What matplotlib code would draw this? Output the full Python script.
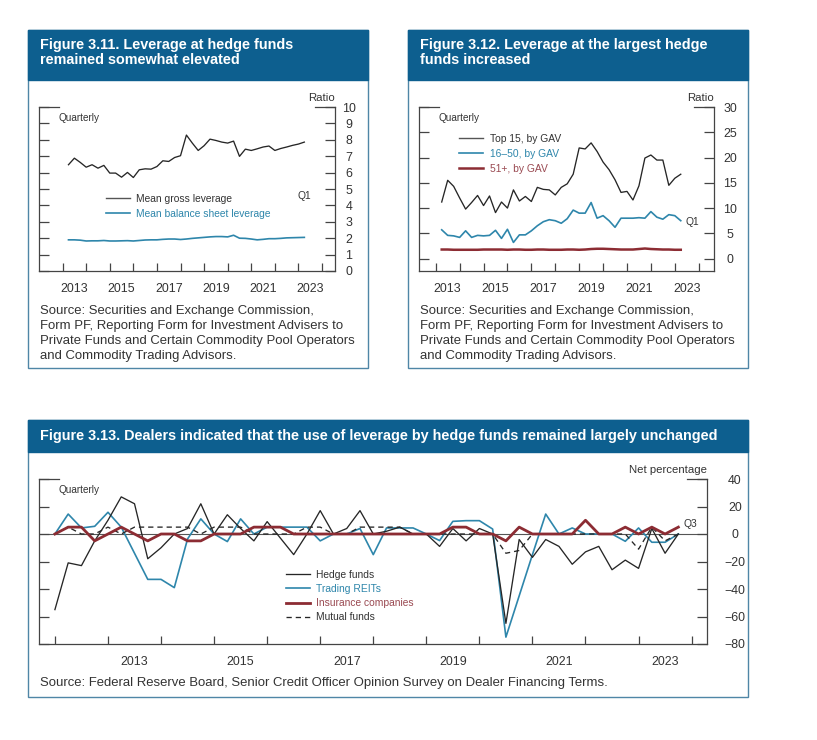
import matplotlib
matplotlib.use('Agg')
import matplotlib.pyplot as plt
import numpy as np
import pandas as pd
from matplotlib.patches import Rectangle
from matplotlib.lines import Line2D

plt.rcParams['font.family'] = ['Liberation Sans', 'DejaVu Sans']

W, H = 817, 740

# ---------------- data ----------------
quarters_311 = pd.period_range('2013Q1', '2023Q1', freq='Q')
gross_leverage = [6.48, 6.88, 6.62, 6.33, 6.48, 6.27, 6.44, 5.97, 5.97, 5.72,
                  6.01, 5.70, 6.17, 6.23, 6.21, 6.37, 6.72, 6.68, 6.92, 7.03,
                  8.29, 7.80, 7.35, 7.64, 8.04, 7.96, 7.86, 7.80, 7.92, 6.99,
                  7.43, 7.35, 7.45, 7.56, 7.62, 7.35, 7.47, 7.56, 7.66, 7.74, 7.86]
balance_sheet_leverage = [1.90, 1.90, 1.88, 1.83, 1.84, 1.84, 1.86, 1.83, 1.83, 1.84,
                          1.85, 1.83, 1.86, 1.89, 1.90, 1.90, 1.93, 1.95, 1.95, 1.92,
                          1.95, 1.99, 2.02, 2.05, 2.08, 2.10, 2.10, 2.08, 2.18, 2.00,
                          1.99, 1.95, 1.90, 1.93, 1.97, 1.97, 1.99, 2.02, 2.03, 2.04, 2.05]

quarters_312 = pd.period_range('2013Q1', '2023Q1', freq='Q')
top15_gav = [11.2, 15.5, 14.3, 12.0, 9.8, 11.1, 12.5, 10.5, 12.4, 9.1,
             11.2, 10.0, 13.6, 11.4, 12.3, 11.3, 14.1, 13.7, 13.6, 12.6,
             14.1, 14.8, 16.7, 21.9, 21.7, 22.9, 21.2, 19.1, 17.6, 15.6,
             13.1, 13.3, 11.6, 14.4, 19.9, 20.5, 19.5, 19.5, 14.5, 15.9, 16.7]
gav_16_50 = [5.7, 4.6, 4.5, 4.2, 5.5, 4.2, 4.6, 4.5, 4.6, 5.6,
             4.0, 5.8, 3.2, 4.7, 4.7, 5.5, 6.5, 7.3, 7.7, 7.5,
             7.0, 7.9, 9.6, 9.0, 9.0, 11.1, 8.0, 8.5, 7.5, 6.2,
             8.0, 8.0, 8.0, 8.1, 8.0, 9.3, 8.2, 7.8, 8.7, 8.5, 7.5]
gav_51_plus = [1.8, 1.8, 1.75, 1.75, 1.75, 1.75, 1.75, 1.8, 1.8, 1.8,
               1.8, 1.75, 1.8, 1.8, 1.75, 1.75, 1.8, 1.8, 1.75, 1.75,
               1.75, 1.8, 1.8, 1.75, 1.8, 1.9, 1.95, 1.95, 1.9, 1.85,
               1.8, 1.8, 1.8, 1.9, 2.0, 1.9, 1.85, 1.8, 1.8, 1.75, 1.75]

quarters_313 = pd.period_range('2011Q4', '2023Q3', freq='Q')
hedge_funds = [-55, -21, -23, -5, 10, 27, 22, -18, -10, 0, 4, 22,
               0, 14, 4, -5, 9, -3, -15, 0, 17, 0, 4, 17,
               0, 2, 5, 0, 0, -9, 4, -5, 4, 0, -65, -4,
               -17, -4, -9, -22, -13, -9, -26, -19, -25, 4, -14, 0]
trading_reits = [0, 14.5, 4.4, 5.6, 15.8, 5, -14, -33, -33, -39, -3.6, 11,
                 0, -5.5, 11, 0, 5, 5, 5, 5, -5, 0, 0, 4,
                 -15, 4.4, 4.4, 4.4, 0, -4.8, 9.2, 9.7, 9.7, 3.6, -75, -45,
                 -15, 14.5, 0, 4.4, 0, 0, 0, -5.3, 4.4, -6, -6, 0]
insurance_companies = [0, 5, 5, -5, 0, 5, 0, -5, 0, 0, -5, -5,
                       0, 0, 0, 5, 5, 5, 0, 0, 0, 0, 0, 0,
                       0, 0, 0, 0, 0, 0, 5, 5, 0, 0, -5, 5,
                       0, 0, 0, 0, 10, 0, 0, 5, 0, 5, 0, 5]
mutual_funds = [0, 5, 0, 0, 5, 0, 5, 5, 5, 5, 5, 0,
                5, 5, 5, 0, 0, 0, 0, 5, 5, 0, 0, 5,
                5, 5, 5, 0, 0, 0, 0, 0, 0, 0, -14, -12,
                0, 0, 0, 0, 0, 0, 0, 0, -11, 5, -5, 0]

year_labels_a = ['2013', '2015', '2017', '2019', '2021', '2023']

# ---------------- style ----------------
HEADER = '#0d5f8f'
BORDER = '#4f86a6'
TXT = '#333333'
BLACK = '#262626'
BLUE = '#2e86ab'
RED = '#8c2c33'
RED_TXT = '#9a4a52'

TICK_FS = 8.9
TITLE_FS = 10.4
SRC_FS = 9.45


def qx(periods):
    return np.asarray(periods.year + periods.quarter / 4.0, dtype=float)


def fx(px):
    return px / W


def fy(py):
    return 1 - py / H


fig = plt.figure(figsize=(W / 100, H / 100), dpi=100)
fig.patch.set_facecolor('white')


def panel_box(x0, y0, x1, y1, header_bottom, title, title_y):
    fig.add_artist(Rectangle((fx(x0), fy(y1)), fx(x1) - fx(x0), fy(y0) - fy(y1),
                             transform=fig.transFigure, facecolor='white',
                             edgecolor=BORDER, linewidth=1.0, zorder=0))
    fig.add_artist(Rectangle((fx(x0), fy(header_bottom)), fx(x1) - fx(x0),
                             fy(y0) - fy(header_bottom), transform=fig.transFigure,
                             facecolor=HEADER, edgecolor=HEADER, linewidth=1.0, zorder=0.5))
    fig.text(fx(x0 + 12), fy(title_y), title, color='white', fontsize=TITLE_FS,
             fontweight='bold', va='center', ha='left', linespacing=1.1)


def make_axes(x0, y0, x1, y1):
    ax = fig.add_axes([fx(x0), fy(y1), fx(x1) - fx(x0), fy(y0) - fy(y1)])
    ax.set_facecolor('none')
    for s in ['left', 'right', 'bottom']:
        ax.spines[s].set_color('#444444')
        ax.spines[s].set_linewidth(0.9)
    ax.spines['top'].set_visible(False)
    seg = 20.0 / (x1 - x0)
    ax.plot([0, seg], [1, 1], transform=ax.transAxes, color='#444444', lw=0.9, clip_on=False)
    ax.plot([1 - seg, 1], [1, 1], transform=ax.transAxes, color='#444444', lw=0.9, clip_on=False)
    return ax


def style_axes(ax, yticks, ylabels, xticks, xlabels_pos, xlabels, ypad, xpad):
    ax.set_yticks(yticks)
    ax.set_yticklabels(ylabels)
    ax.tick_params(axis='y', which='major', direction='in', length=7, width=0.9,
                   color='#444444', left=True, right=True, labelleft=False,
                   labelright=True, labelsize=TICK_FS, pad=ypad, labelcolor=TXT)
    for lab in ax.get_yticklabels():
        lab.set_horizontalalignment('center')
    ax.set_xticks(xticks)
    ax.set_xticklabels([])
    ax.set_xticks(xlabels_pos, minor=True)
    ax.set_xticklabels(xlabels, minor=True)
    ax.tick_params(axis='x', which='major', direction='in', length=6, width=0.9,
                   color='#444444', top=False)
    ax.tick_params(axis='x', which='minor', length=0, labelsize=TICK_FS, pad=xpad,
                   labelcolor=TXT, top=False)


SRC_PF = ('Source: Securities and Exchange Commission,\n'
          'Form PF, Reporting Form for Investment Advisers to\n'
          'Private Funds and Certain Commodity Pool Operators\n'
          'and Commodity Trading Advisors.')

# ---------------- Figure 3.11 ----------------
panel_box(28, 30, 368, 368, 80,
          'Figure 3.11. Leverage at hedge funds\nremained somewhat elevated', 52.5)
ax1 = make_axes(39, 107, 335, 271)
x311 = qx(quarters_311)
l_gross, = ax1.plot(x311, gross_leverage, color=BLACK, lw=0.95)
l_bs, = ax1.plot(x311, balance_sheet_leverage, color=BLUE, lw=1.2)
ax1.set_xlim(2012.0, 2024.55)
ax1.set_ylim(0, 10)
y1t = list(range(0, 11))
style_axes(ax1, y1t, [str(v) for v in y1t], list(range(2013, 2025)),
           [int(y) + 0.5 for y in year_labels_a], year_labels_a, 10, 8.5)
ax1.text(fx(59), fy(118), 'Quarterly', transform=fig.transFigure, fontsize=7.2,
         color=TXT, va='center', ha='left')
ax1.text(fx(335), fy(98), 'Ratio', transform=fig.transFigure, fontsize=8.2,
         color=TXT, va='center', ha='right')
ax1.text(fx(298), fy(196), 'Q1', transform=fig.transFigure, fontsize=7.4,
         color=TXT, va='center', ha='left')
leg1 = ax1.legend([Line2D([], [], color='#555555', lw=1.0), l_bs],
                  ['Mean gross leverage', 'Mean balance sheet leverage'],
                  loc='upper left', bbox_to_anchor=(fx(106), fy(193.5)),
                  bbox_transform=fig.transFigure, frameon=False, borderpad=0,
                  borderaxespad=0, handlelength=2.35, handletextpad=0.6,
                  labelspacing=0.5, fontsize=7.4)
for t, c in zip(leg1.get_texts(), [TXT, BLUE]):
    t.set_color(c)
fig.text(fx(40), fy(333.5), SRC_PF, fontsize=SRC_FS, color=TXT, va='center',
         ha='left', linespacing=1.35)

# ---------------- Figure 3.12 ----------------
panel_box(408, 30, 748, 368, 80,
          'Figure 3.12. Leverage at the largest hedge\nfunds increased', 52.5)
ax2 = make_axes(419, 107, 714, 271)
x312 = qx(quarters_312)
l_top, = ax2.plot(x312, top15_gav, color=BLACK, lw=0.95)
l_mid, = ax2.plot(x312, gav_16_50, color=BLUE, lw=1.2)
l_small, = ax2.plot(x312, gav_51_plus, color=RED, lw=1.8)
ax2.set_xlim(2012.3, 2024.64)
ax2.set_ylim(-2.45, 30)
y2t = list(range(0, 31, 5))
style_axes(ax2, y2t, [str(v) for v in y2t], list(range(2013, 2025)),
           [int(y) + 0.5 for y in year_labels_a], year_labels_a, 11.5, 8.5)
ax2.text(fx(439), fy(118), 'Quarterly', transform=fig.transFigure, fontsize=7.2,
         color=TXT, va='center', ha='left')
ax2.text(fx(714), fy(98), 'Ratio', transform=fig.transFigure, fontsize=8.2,
         color=TXT, va='center', ha='right')
ax2.text(fx(686), fy(222), 'Q1', transform=fig.transFigure, fontsize=7.4,
         color=TXT, va='center', ha='left')
leg2 = ax2.legend([Line2D([], [], color='#555555', lw=1.0), l_mid, l_small],
                  ['Top 15, by GAV', '16\u201350, by GAV', '51+, by GAV'],
                  loc='upper left', bbox_to_anchor=(fx(459), fy(133.5)),
                  bbox_transform=fig.transFigure, frameon=False, borderpad=0,
                  borderaxespad=0, handlelength=2.35, handletextpad=0.7,
                  labelspacing=0.5, fontsize=7.4)
for t, c in zip(leg2.get_texts(), [TXT, BLUE, RED_TXT]):
    t.set_color(c)
fig.text(fx(420), fy(333.5), SRC_PF, fontsize=SRC_FS, color=TXT, va='center',
         ha='left', linespacing=1.35)

# ---------------- Figure 3.13 ----------------
panel_box(28, 420, 748, 697, 452,
          'Figure 3.13. Dealers indicated that the use of leverage by hedge funds remained largely unchanged',
          436)
ax3 = make_axes(39, 479, 707, 644)
x313 = qx(quarters_313)
ax3.axhline(0, color='#555555', lw=0.8, zorder=1)
l_hf, = ax3.plot(x313, hedge_funds, color=BLACK, lw=0.95, zorder=3)
l_tr, = ax3.plot(x313, trading_reits, color=BLUE, lw=1.2, zorder=2)
l_ins, = ax3.plot(x313, insurance_companies, color=RED, lw=2.0, zorder=4)
l_mf, = ax3.plot(x313, mutual_funds, color=BLACK, lw=0.95, ls=(0, (4, 3)), zorder=3)
ax3.set_xlim(2011.7, 2024.29)
ax3.set_ylim(-80, 40)
y3t = list(range(-80, 41, 20))
style_axes(ax3, y3t, [str(v).replace('-', '\u2212') for v in y3t], list(range(2012, 2025)),
           [int(y) + 0.5 for y in year_labels_a], year_labels_a, 20, 8.5)
ax3.text(fx(59), fy(490), 'Quarterly', transform=fig.transFigure, fontsize=7.2,
         color=TXT, va='center', ha='left')
ax3.text(fx(707), fy(470), 'Net percentage', transform=fig.transFigure, fontsize=8.2,
         color=TXT, va='center', ha='right')
ax3.text(fx(683), fy(524), 'Q3', transform=fig.transFigure, fontsize=7.4,
         color=TXT, va='center', ha='left')
leg3 = ax3.legend([l_hf, l_tr, l_ins, l_mf],
                  ['Hedge funds', 'Trading REITs', 'Insurance companies', 'Mutual funds'],
                  loc='upper left', bbox_to_anchor=(fx(286), fy(569.5)),
                  bbox_transform=fig.transFigure, frameon=False, borderpad=0,
                  borderaxespad=0, handlelength=2.35, handletextpad=0.6,
                  labelspacing=0.42, fontsize=7.4)
for t, c in zip(leg3.get_texts(), [TXT, BLUE, RED_TXT, TXT]):
    t.set_color(c)
fig.text(fx(40), fy(683),
         'Source: Federal Reserve Board, Senior Credit Officer Opinion Survey on Dealer Financing Terms.',
         fontsize=SRC_FS, color=TXT, va='center', ha='left')

fig.savefig('out.png', dpi=100, facecolor='white')
